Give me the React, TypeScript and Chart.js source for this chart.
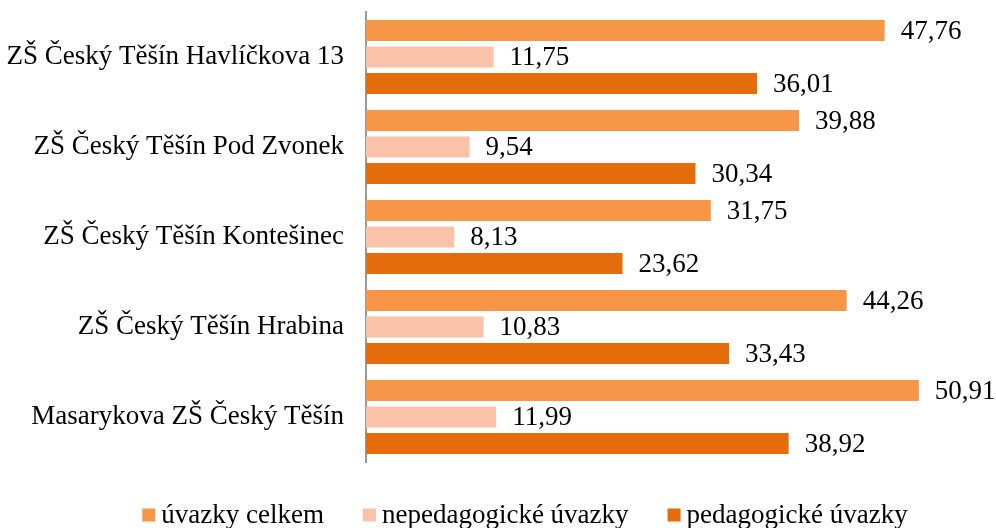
import React, { useEffect, useRef } from "react";
import { Chart, registerables } from "chart.js";

Chart.register(...registerables);

const categories = [
  "ZŠ Český Těšín Havlíčkova 13",
  "ZŠ Český Těšín Pod Zvonek",
  "ZŠ Český Těšín Kontešinec",
  "ZŠ Český Těšín Hrabina",
  "Masarykova ZŠ Český Těšín",
];
const seriesNames = ["úvazky celkem", "nepedagogické úvazky", "pedagogické úvazky"];
const celkem = [47.76, 39.88, 31.75, 44.26, 50.91];
const nepedagogicke = [11.75, 9.54, 8.13, 10.83, 11.99];
const pedagogicke = [36.01, 30.34, 23.62, 33.43, 38.92];
const colors = ["#F79646", "#FAC3A9", "#E46C0A"];

const FONT = "'Liberation Serif', 'Times New Roman', serif";
const FONT_SIZE = 27;

const labelPlugin = {
  id: "valueLabels",
  afterDatasetsDraw(chart: any) {
    const ctx = chart.ctx;
    ctx.save();
    ctx.font = `${FONT_SIZE}px ${FONT}`;
    ctx.fillStyle = "#000";
    ctx.textAlign = "left";
    ctx.textBaseline = "middle";
    chart.data.datasets.forEach((ds: any, i: number) => {
      const meta = chart.getDatasetMeta(i);
      meta.data.forEach((bar: any, j: number) => {
        const v = ds.data[j] as number;
        ctx.fillText(v.toFixed(2).replace(".", ","), bar.x + 16, bar.y + 1);
      });
    });
    ctx.restore();
  },
};

const legendPlugin = {
  id: "customLegend",
  afterDraw(chart: any) {
    const ctx = chart.ctx;
    ctx.save();
    ctx.font = `${FONT_SIZE}px ${FONT}`;
    ctx.textBaseline = "middle";
    ctx.textAlign = "left";
    const box = 13;
    const gap = 6;
    const spacing = 39;
    const items = chart.data.datasets.map((ds: any) => ({
      label: ds.label as string,
      color: ds.backgroundColor as string,
      w: ctx.measureText(ds.label).width,
    }));
    const total =
      items.reduce((a: number, it: any) => a + box + gap + it.w, 0) +
      spacing * (items.length - 1);
    const cy = 515;
    let x = 525 - total / 2;
    items.forEach((it: any) => {
      ctx.fillStyle = it.color;
      ctx.fillRect(x, cy - box / 2, box, box);
      ctx.fillStyle = "#000";
      ctx.fillText(it.label, x + box + gap, cy + 1);
      x += box + gap + it.w + spacing;
    });
    ctx.restore();
  },
};

export default function App() {
  const ref = useRef<HTMLCanvasElement>(null);
  useEffect(() => {
    document.body.style.margin = "0";
    const chart = new Chart(ref.current!, {
      type: "bar",
      data: {
        labels: categories,
        datasets: [celkem, nepedagogicke, pedagogicke].map((d, i) => ({
          label: seriesNames[i],
          data: d,
          backgroundColor: colors[i],
          borderWidth: 0,
          categoryPercentage: 0.883,
          barPercentage: 0.79,
        })),
      },
      options: {
        indexAxis: "y",
        animation: false,
        responsive: false,
        maintainAspectRatio: false,
        layout: { padding: { top: 12, right: 11, bottom: 66, left: 0 } },
        scales: {
          x: {
            min: 0,
            max: 57,
            display: false,
          },
          y: {
            grid: {
              display: true,
              drawOnChartArea: false,
              drawTicks: true,
              tickLength: 22,
              color: "rgba(0,0,0,0)",
            },
            border: { display: true, color: "#9a9a9a", width: 2 },
            ticks: {
              color: "#000",
              font: { family: FONT, size: FONT_SIZE },
              padding: 0,
            },
            afterFit: (s: any) => {
              s.width = 366;
              s.paddingTop = 0;
              s.paddingBottom = 0;
            },
          },
        },
        plugins: {
          legend: { display: false },
          tooltip: { enabled: false },
        },
      },
      plugins: [labelPlugin, legendPlugin],
    });
    return () => chart.destroy();
  }, []);
  return (
    <div style={{ width: 996, height: 528 }}>
      <canvas ref={ref} width={996} height={528} style={{ display: "block" }} />
    </div>
  );
}
